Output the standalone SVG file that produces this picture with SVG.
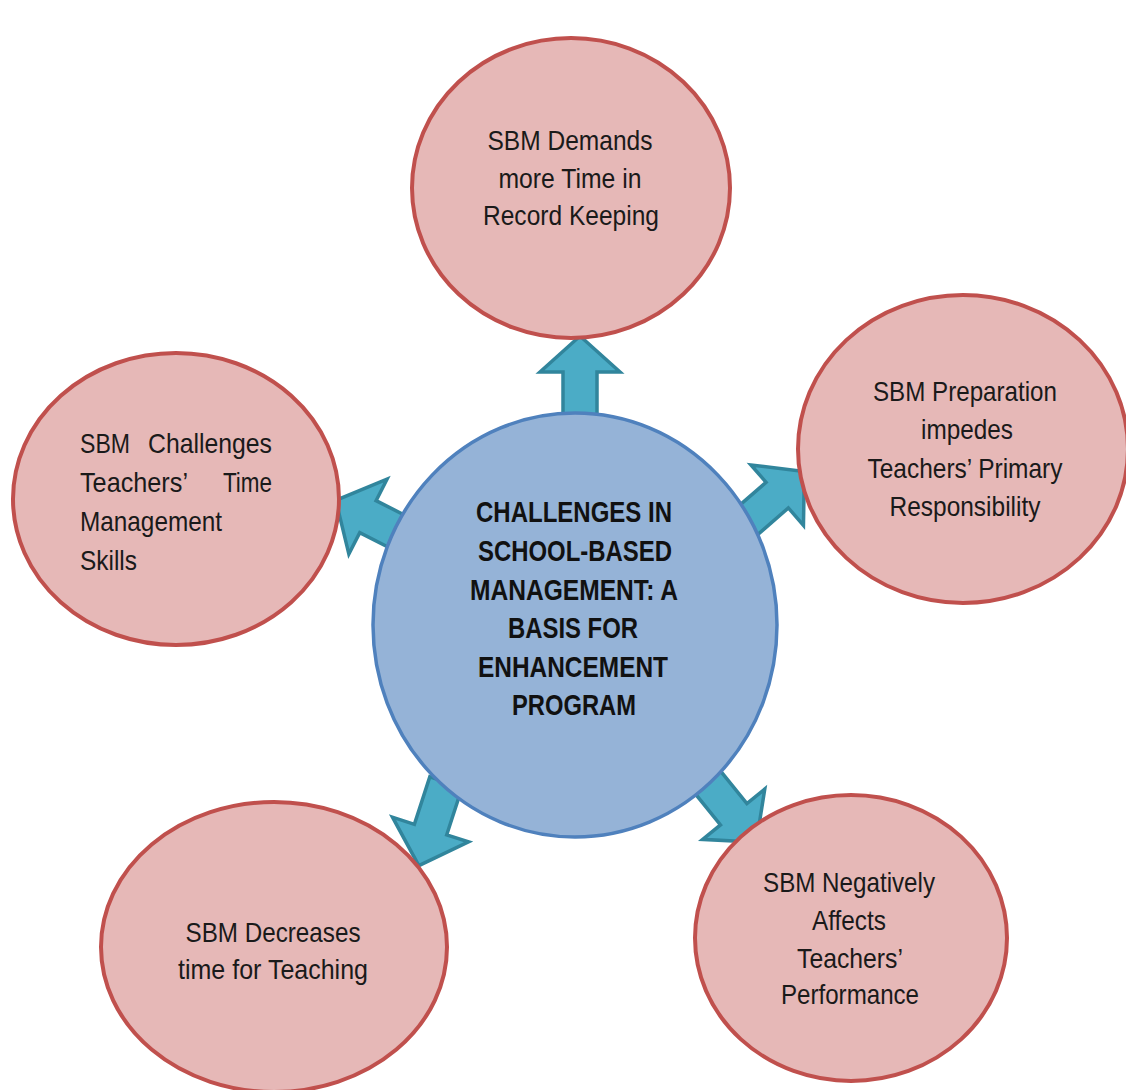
<svg xmlns="http://www.w3.org/2000/svg" width="1126" height="1090" viewBox="0 0 1126 1090">
  <defs>
    <!-- block arrow pointing up, base centre at origin -->
    <path id="arrow80" d="M-17,0 L-17,-44 L-40,-44 L0,-80 L40,-44 L17,-44 L17,0 Z"/>
    <path id="arrow72" d="M-18,0 L-18,-36 L-42,-36 L0,-72 L42,-36 L18,-36 L18,0 Z"/>
    <path id="arrow88" d="M-17,0 L-17,-50 L-40,-50 L0,-88 L40,-50 L17,-50 L17,0 Z"/>
  </defs>
  <style>
    .arrow { fill: #4bacc6; stroke: #31859c; stroke-width: 3.5; stroke-linejoin: miter; }
    .outer { fill: #e6b8b7; stroke: #c0504d; stroke-width: 4; }
    .hub { fill: #95b3d7; stroke: #4f81bd; stroke-width: 3.5; }
    .lbl { font-family: "Liberation Sans", Arial, sans-serif; font-size: 28px; fill: #1a1a1a; }
    .mid { text-anchor: middle; }
    .hubtxt { font-family: "Liberation Sans", Arial, sans-serif; font-size: 30px; font-weight: bold; fill: #111111; text-anchor: middle; }
  </style>
  <rect width="1126" height="1090" fill="#ffffff"/>

  <g id="connectors">
    <use href="#arrow80" class="arrow" transform="translate(580,416) rotate(0)"/>
    <use href="#arrow80" class="arrow" transform="translate(744,524) rotate(49)"/>
    <use href="#arrow72" class="arrow" transform="translate(400,533) rotate(-63)"/>
    <use href="#arrow88" class="arrow" transform="translate(446,782) rotate(-162)"/>
    <use href="#arrow80" class="arrow" transform="translate(706,780) rotate(141)"/>
  </g>

  <g id="node-top">
    <ellipse class="outer" cx="571" cy="188" rx="159" ry="150"/>
    <text class="lbl mid" x="570" y="150" textLength="165" lengthAdjust="spacingAndGlyphs">SBM Demands</text>
    <text class="lbl mid" x="570" y="188" textLength="143" lengthAdjust="spacingAndGlyphs">more Time in</text>
    <text class="lbl mid" x="571" y="225" textLength="176" lengthAdjust="spacingAndGlyphs">Record Keeping</text>
  </g>

  <g id="node-right">
    <ellipse class="outer" cx="963" cy="449" rx="165" ry="154"/>
    <text class="lbl mid" x="965" y="401" textLength="184" lengthAdjust="spacingAndGlyphs">SBM Preparation</text>
    <text class="lbl mid" x="967" y="439" textLength="92" lengthAdjust="spacingAndGlyphs">impedes</text>
    <text class="lbl mid" x="965" y="478" textLength="195" lengthAdjust="spacingAndGlyphs">Teachers’ Primary</text>
    <text class="lbl mid" x="965" y="516" textLength="151" lengthAdjust="spacingAndGlyphs">Responsibility</text>
  </g>

  <g id="node-left">
    <ellipse class="outer" cx="176" cy="499" rx="163" ry="146"/>
    <text class="lbl" x="80" y="453" textLength="50" lengthAdjust="spacingAndGlyphs">SBM</text>
    <text class="lbl" x="148" y="453" textLength="124" lengthAdjust="spacingAndGlyphs">Challenges</text>
    <text class="lbl" x="80" y="492" textLength="108" lengthAdjust="spacingAndGlyphs">Teachers’</text>
    <text class="lbl" x="223" y="492" textLength="49" lengthAdjust="spacingAndGlyphs">Time</text>
    <text class="lbl" x="80" y="531" textLength="142" lengthAdjust="spacingAndGlyphs">Management</text>
    <text class="lbl" x="80" y="570" textLength="57" lengthAdjust="spacingAndGlyphs">Skills</text>
  </g>

  <g id="node-bottom-left">
    <ellipse class="outer" cx="274" cy="947" rx="173" ry="145"/>
    <text class="lbl mid" x="273" y="942" textLength="175" lengthAdjust="spacingAndGlyphs">SBM Decreases</text>
    <text class="lbl mid" x="273" y="979" textLength="190" lengthAdjust="spacingAndGlyphs">time for Teaching</text>
  </g>

  <g id="node-bottom-right">
    <ellipse class="outer" cx="851" cy="938" rx="156" ry="143"/>
    <text class="lbl mid" x="849" y="892" textLength="172" lengthAdjust="spacingAndGlyphs">SBM Negatively</text>
    <text class="lbl mid" x="849" y="930" textLength="74" lengthAdjust="spacingAndGlyphs">Affects</text>
    <text class="lbl mid" x="850" y="968" textLength="106" lengthAdjust="spacingAndGlyphs">Teachers’</text>
    <text class="lbl mid" x="850" y="1004" textLength="138" lengthAdjust="spacingAndGlyphs">Performance</text>
  </g>

  <g id="node-center">
    <ellipse class="hub" cx="575" cy="625" rx="202" ry="212"/>
    <text class="hubtxt" x="574" y="522" textLength="196" lengthAdjust="spacingAndGlyphs">CHALLENGES IN</text>
    <text class="hubtxt" x="575" y="561" textLength="194" lengthAdjust="spacingAndGlyphs">SCHOOL-BASED</text>
    <text class="hubtxt" x="574" y="600" textLength="208" lengthAdjust="spacingAndGlyphs">MANAGEMENT: A</text>
    <text class="hubtxt" x="573" y="638" textLength="130" lengthAdjust="spacingAndGlyphs">BASIS FOR</text>
    <text class="hubtxt" x="573" y="677" textLength="190" lengthAdjust="spacingAndGlyphs">ENHANCEMENT</text>
    <text class="hubtxt" x="574" y="715" textLength="124" lengthAdjust="spacingAndGlyphs">PROGRAM</text>
  </g>
</svg>
